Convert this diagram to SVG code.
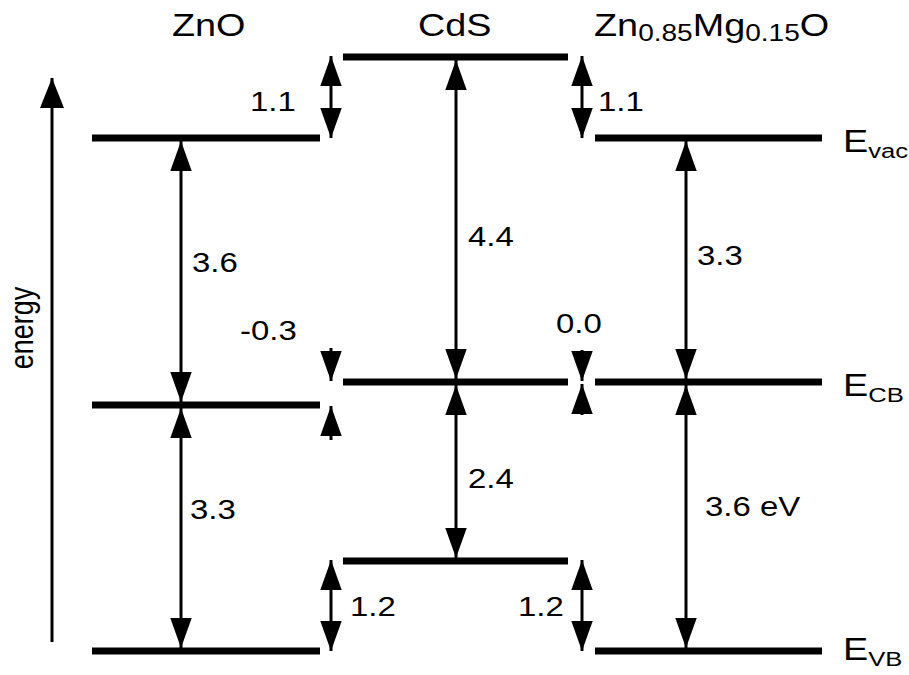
<svg xmlns="http://www.w3.org/2000/svg" width="909" height="675" viewBox="0 0 909 675">
<style>
text{font-family:"Liberation Sans",Arial,sans-serif;fill:#000}
.t{font-size:31px}
.l{font-size:27px}
.lv{stroke:#000;stroke-width:7;stroke-linecap:butt}
.ar{stroke:#000;stroke-width:3;fill:none}
</style>
<defs>
<marker id="h" markerUnits="userSpaceOnUse" markerWidth="30" markerHeight="22" viewBox="0 0 28 20" refX="28" refY="10" orient="auto-start-reverse">
<path d="M0,0 L28,10 L0,20 z" fill="#000"/>
</marker>
<marker id="hb" markerUnits="userSpaceOnUse" markerWidth="30" markerHeight="24" viewBox="0 0 30 24" refX="30" refY="12" orient="auto">
<path d="M0,0 L30,12 L0,24 z" fill="#000"/>
</marker>
</defs>
<rect width="909" height="675" fill="#fff"/>

<g id="titles">
<text class="t" transform="translate(172,36) scale(1.22,1)">ZnO</text>
<text class="t" transform="translate(418,36) scale(1.22,1)">CdS</text>
<text class="t" transform="translate(594,36) scale(1.22,1)">Zn<tspan font-size="23" dy="5">0.85</tspan><tspan dy="-5">Mg</tspan><tspan font-size="23" dy="5">0.15</tspan><tspan dy="-5">O</tspan></text>
</g>

<g id="axis">
<line class="ar" x1="52" y1="642" x2="52" y2="78" marker-end="url(#hb)"/>
<text class="l" font-size="28" text-anchor="middle" transform="translate(33,328) rotate(-90) scale(1,1.22)">energy</text>
</g>

<g id="ZnO">
<line class="lv" x1="92" y1="138" x2="320" y2="138"/>
<line class="lv" x1="92" y1="405" x2="320" y2="405"/>
<line class="lv" x1="92" y1="651" x2="320" y2="651"/>
</g>
<g id="CdS">
<line class="lv" x1="343" y1="57" x2="568" y2="57"/>
<line class="lv" x1="343" y1="382" x2="568" y2="382"/>
<line class="lv" x1="343" y1="561" x2="568" y2="561"/>
</g>
<g id="ZnMgO">
<line class="lv" x1="595" y1="138" x2="822" y2="138"/>
<line class="lv" x1="595" y1="382" x2="822" y2="382"/>
<line class="lv" x1="595" y1="651" x2="822" y2="651"/>
</g>

<g id="connectors">
<line class="ar" x1="181" y1="141" x2="181" y2="402" marker-start="url(#h)" marker-end="url(#h)"/>
<line class="ar" x1="181" y1="408" x2="181" y2="648" marker-start="url(#h)" marker-end="url(#h)"/>
<line class="ar" x1="456" y1="60" x2="456" y2="379" marker-start="url(#h)" marker-end="url(#h)"/>
<line class="ar" x1="456" y1="385" x2="456" y2="558" marker-start="url(#h)" marker-end="url(#h)"/>
<line class="ar" x1="686" y1="141" x2="686" y2="379" marker-start="url(#h)" marker-end="url(#h)"/>
<line class="ar" x1="686" y1="385" x2="686" y2="648" marker-start="url(#h)" marker-end="url(#h)"/>
<line class="ar" x1="331" y1="56" x2="331" y2="138" marker-start="url(#h)" marker-end="url(#h)"/>
<line class="ar" x1="582" y1="56" x2="582" y2="138" marker-start="url(#h)" marker-end="url(#h)"/>
<line class="ar" x1="331" y1="560" x2="331" y2="651" marker-start="url(#h)" marker-end="url(#h)"/>
<line class="ar" x1="582" y1="560" x2="582" y2="651" marker-start="url(#h)" marker-end="url(#h)"/>
<line class="ar" x1="331" y1="348" x2="331" y2="381" marker-end="url(#h)"/>
<line class="ar" x1="331" y1="440" x2="331" y2="406" marker-end="url(#h)"/>
<line class="ar" x1="582" y1="350" x2="582" y2="381" marker-end="url(#h)"/>
<line class="ar" x1="582" y1="415" x2="582" y2="384" marker-end="url(#h)"/>
</g>

<g id="labels">
<text class="l" transform="translate(250,111) scale(1.22,1)">1.1</text>
<text class="l" transform="translate(598,111) scale(1.22,1)">1.1</text>
<text class="l" transform="translate(192,272) scale(1.22,1)">3.6</text>
<text class="l" transform="translate(468,246) scale(1.22,1)">4.4</text>
<text class="l" transform="translate(697,265) scale(1.22,1)">3.3</text>
<text class="l" transform="translate(240,340) scale(1.22,1)">-0.3</text>
<text class="l" transform="translate(556,333) scale(1.22,1)">0.0</text>
<text class="l" transform="translate(468,488) scale(1.22,1)">2.4</text>
<text class="l" transform="translate(190,519) scale(1.22,1)">3.3</text>
<text class="l" transform="translate(705,516) scale(1.22,1)">3.6 eV</text>
<text class="l" transform="translate(350,616) scale(1.22,1)">1.2</text>
<text class="l" transform="translate(518,616) scale(1.22,1)">1.2</text>
<text class="t" font-size="30" transform="translate(843,152) scale(1.22,1)">E<tspan font-size="21" dy="6">vac</tspan></text>
<text class="t" font-size="30" transform="translate(843,396) scale(1.22,1)">E<tspan font-size="21" dy="6">CB</tspan></text>
<text class="t" font-size="30" transform="translate(843,660) scale(1.22,1)">E<tspan font-size="21" dy="6">VB</tspan></text>
</g>
</svg>
